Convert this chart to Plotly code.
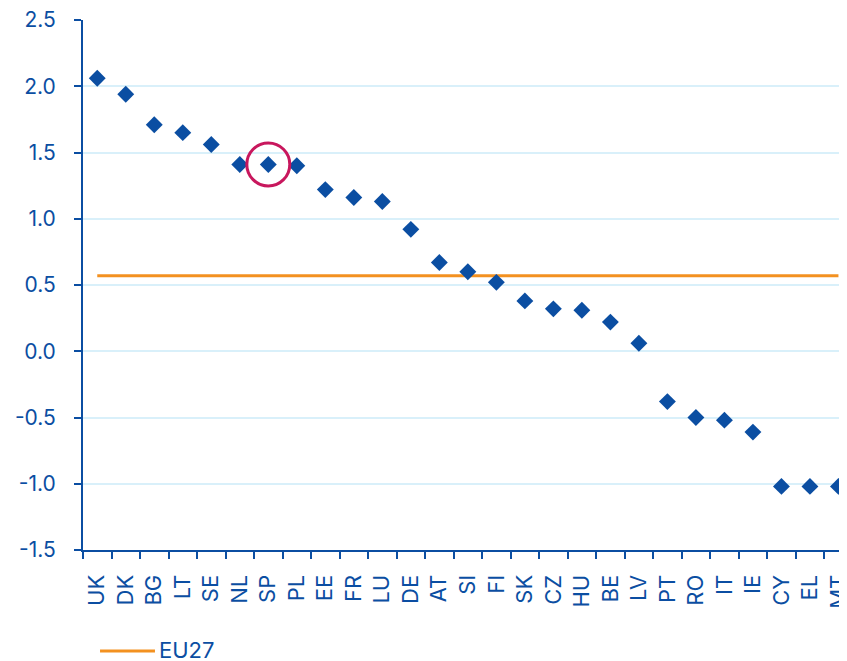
import plotly.graph_objects as go

countries = ["UK", "DK", "BG", "LT", "SE", "NL", "SP", "PL", "EE", "FR", "LU", "DE", "AT", "SI",
             "FI", "SK", "CZ", "HU", "BE", "LV", "PT", "RO", "IT", "IE", "CY", "EL", "MT"]
values = [2.06, 1.94, 1.71, 1.65, 1.56, 1.41, 1.41, 1.40, 1.22, 1.16, 1.13, 0.92, 0.67, 0.60,
          0.52, 0.38, 0.32, 0.31, 0.22, 0.06, -0.38, -0.50, -0.52, -0.61, -1.02, -1.02, -1.02]
eu27_value = 0.57
highlight = "SP"
y_tickvals = [2.5, 2.0, 1.5, 1.0, 0.5, 0.0, -0.5, -1.0, -1.5]
y_ticktext = ["2.5", "2.0", "1.5", "1.0", "0.5", "0.0", "-0.5", "-1.0", "-1.5"]
legend_label = "EU27"

BLUE = "#0B4EA2"
ORANGE = "#F39120"
MAGENTA = "#C8175D"
FONT = "Inter"

fig = go.Figure()
fig.add_trace(go.Scatter(
    x=countries, y=[eu27_value] * len(countries), mode="lines",
    line=dict(color=ORANGE, width=3), name=legend_label, showlegend=False))
fig.add_trace(go.Scatter(
    x=countries, y=values, mode="markers",
    marker=dict(symbol="diamond", size=13, color=BLUE), showlegend=False))
hi = countries.index(highlight)
fig.add_trace(go.Scatter(
    x=[highlight], y=[values[hi]], mode="markers",
    marker=dict(symbol="circle-open", size=43, color=MAGENTA, line=dict(width=3, color=MAGENTA)),
    showlegend=False))

# manual legend (line sample + label) below the plot
fig.add_shape(type="line", xref="paper", yref="paper",
              x0=0.0223, x1=0.0942, y0=-0.1906, y1=-0.1906,
              line=dict(color=ORANGE, width=3))
fig.add_annotation(text=legend_label, xref="paper", yref="paper", x=0.0965, y=-0.1890,
                   xanchor="left", yanchor="middle", showarrow=False,
                   font=dict(size=22, color=BLUE, family=FONT))

# page body has an 8px margin, so the figure is sized to fit the 847x661 window
fig.update_layout(
    width=839, height=653,
    margin=dict(l=75, r=0, t=12, b=111),
    plot_bgcolor="white", paper_bgcolor="white",
    font=dict(family=FONT, color=BLUE),
    showlegend=False,
)
# the original chart's plot area runs slightly past the right edge of the picture
fig.update_xaxes(
    type="category", tickson="boundaries", ticks="outside", ticklen=7, tickwidth=2,
    tickcolor=BLUE, showline=True, linecolor=BLUE, linewidth=2, showgrid=False,
    tickangle=-90, tickfont=dict(size=22, color=BLUE, family=FONT), ticklabelstandoff=14,
    range=[-0.5, len(countries) - 0.7], automargin=False, ticklabeloverflow="allow")
fig.update_yaxes(
    range=[-1.5, 2.5], tickvals=y_tickvals, ticktext=y_ticktext, ticks="outside", ticklen=7,
    tickwidth=2, tickcolor=BLUE, showline=True, linecolor=BLUE, linewidth=2,
    showgrid=True, gridcolor="#D9F0FA", gridwidth=1.5, zeroline=False,
    tickfont=dict(size=21, color=BLUE, family=FONT), ticklabelstandoff=14, automargin=False,
    ticklabeloverflow="allow")

fig.write_html("out.html")
